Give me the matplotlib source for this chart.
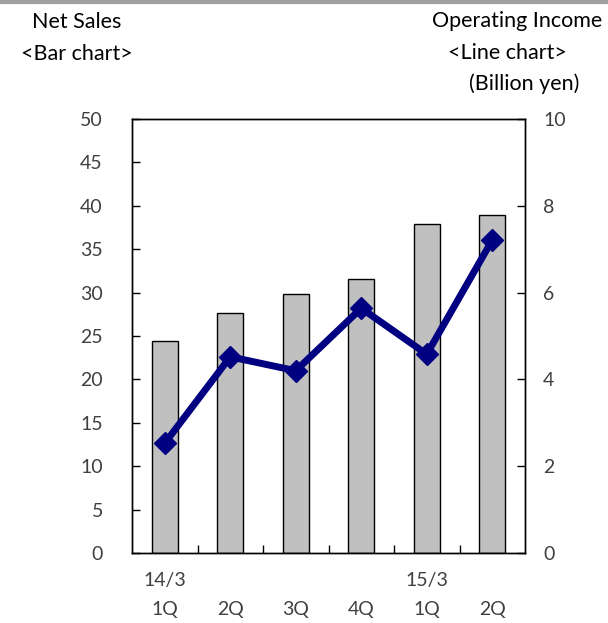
import matplotlib.pyplot as plt
import numpy as np

plt.rcParams['font.family'] = ['Lato', 'DejaVu Sans']

quarters = ['14/3\n1Q', '\n2Q', '\n3Q', '\n4Q', '15/3\n1Q', '\n2Q']
net_sales = [24.4, 27.7, 29.8, 31.6, 37.9, 38.9]
operating_income = [2.53, 4.52, 4.2, 5.64, 4.58, 7.21]

fig = plt.figure(figsize=(6.08, 6.23), dpi=100)
ax = fig.add_axes([132 / 608, 1 - 553 / 623, 393 / 608, 434 / 623])
x = np.arange(len(quarters))

ax.bar(x, net_sales, width=0.4, color='#c0c0c0', edgecolor='black', linewidth=1.0, zorder=2)
ax.set_xlim(-0.5, len(quarters) - 0.5)
ax.set_ylim(0, 50)
ax.set_yticks(range(0, 51, 5))
ax.set_xticks(x)
ax.set_xticklabels(quarters, fontsize=14, color='#404040', linespacing=1.8)
ax.set_xticks(np.arange(0.5, len(quarters) - 0.5), minor=True)
ax.tick_params(axis='x', which='major', length=0, pad=14)
ax.tick_params(axis='x', which='minor', direction='in', length=6, width=1)
ax.tick_params(axis='y', direction='in', length=6, width=1, labelsize=14,
               labelcolor='#404040', pad=21)

ax2 = ax.twinx()
ax2.plot(x, operating_income, color='#000080', linewidth=5, marker='D',
         markersize=11, zorder=3)
ax2.set_ylim(0, 10)
ax2.set_yticks(range(0, 11, 2))
ax2.tick_params(axis='y', direction='in', length=6, width=1, labelsize=14,
                labelcolor='#404040', pad=13)

for a in (ax, ax2):
    for s in a.spines.values():
        s.set_linewidth(1.0)
        s.set_color('black')

fig.text(77 / 608, 1 - 22 / 623, 'Net Sales', ha='center', va='center', fontsize=15.5)
fig.text(77 / 608, 1 - 54 / 623, '<Bar chart>', ha='center', va='center', fontsize=15.5)
fig.text(602 / 608, 1 - 21 / 623, 'Operating Income', ha='right', va='center', fontsize=15.5)
fig.text(507 / 608, 1 - 53 / 623, '<Line chart>', ha='center', va='center', fontsize=15.5)
fig.text(524 / 608, 1 - 84 / 623, '(Billion yen)', ha='center', va='center', fontsize=15.5)

# grey rule along the top edge
fig.add_artist(plt.Line2D([0, 1], [1 - 2 / 623, 1 - 2 / 623], color='#a0a0a0',
                          linewidth=3, transform=fig.transFigure))

fig.savefig('out.png', dpi=100)
